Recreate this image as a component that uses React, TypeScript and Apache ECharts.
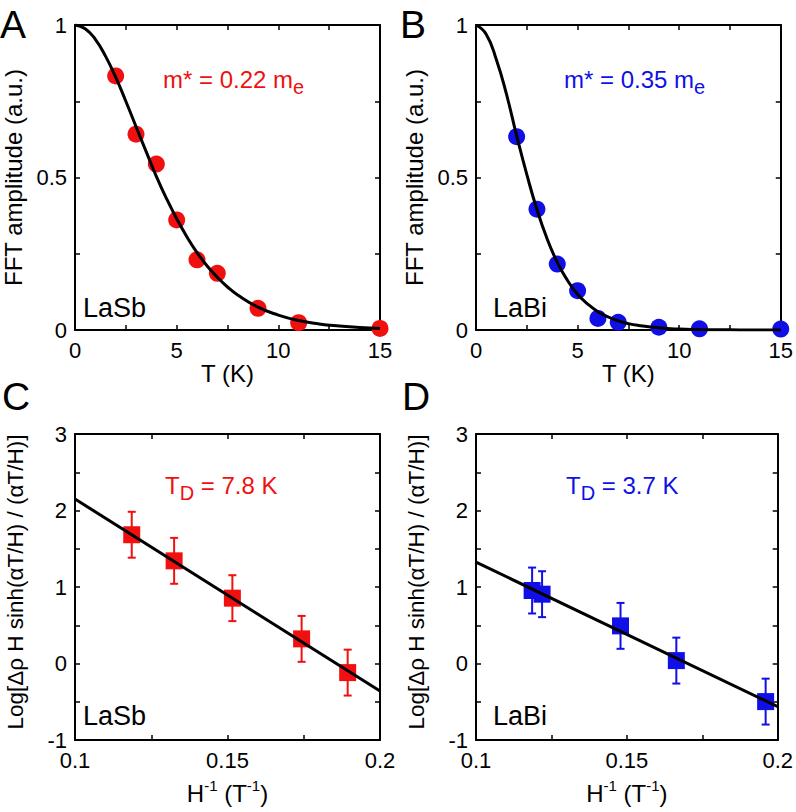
import React, { useEffect, useRef } from 'react';
import * as echarts from 'echarts';

// ---- Panel A / B : FFT amplitude vs T ----
const tempA = [2, 3, 4, 5, 6, 7, 9, 11, 15];
const ampLaSb = [0.833, 0.642, 0.544, 0.361, 0.23, 0.186, 0.071, 0.024, 0.005];
const tempB = [2, 3, 4, 5, 6, 7, 9, 11, 15];
const ampLaBi = [0.634, 0.396, 0.216, 0.129, 0.038, 0.025, 0.009, 0.004, 0.003];
const fitT = [0, 0.5, 1, 1.5, 2, 2.5, 3, 3.5, 4, 4.5, 5, 5.5, 6, 6.5, 7, 7.5, 8, 9, 10, 11, 12, 13, 14, 15];
const fitLaSb = [1, 0.988, 0.953, 0.898, 0.829, 0.75, 0.667, 0.585, 0.504, 0.431, 0.365, 0.306, 0.254, 0.21, 0.173, 0.141, 0.115, 0.075, 0.049, 0.031, 0.02, 0.013, 0.008, 0.005];
const fitLaBi = [1, 0.97, 0.887, 0.773, 0.637, 0.51, 0.395, 0.299, 0.222, 0.163, 0.117, 0.085, 0.06, 0.043, 0.03, 0.021, 0.015, 0.007, 0.003, 0.0015, 0.0007, 0.0003, 0.0001, 0.00005];

// ---- Panel C / D : Dingle plots ----
const invH_C = [0.1186, 0.1325, 0.1516, 0.1743, 0.1894];
const logC = [1.683, 1.342, 0.854, 0.322, -0.119];
const errC = [0.3, 0.3, 0.3, 0.3, 0.3];
const fitX_C = [0.1, 0.2];
const fitY_C = [2.15, -0.36];
const invH_D = [0.1186, 0.1219, 0.1479, 0.1664, 0.196];
const logD = [0.954, 0.906, 0.492, 0.038, -0.498];
const errD = [0.3, 0.3, 0.3, 0.3, 0.3];
const fitX_D = [0.1, 0.2];
const fitY_D = [1.325, -0.564];

const RED = '#f01010';
const BLUE = '#1010e6';
const FONT = '"Liberation Sans", Arial, Helvetica, sans-serif';

const zip = (a: number[], b: number[]) => a.map((v, i) => [v, b[i]]);

function fmtStep(step: number) {
  return (v: number) => {
    const r = v / step;
    if (Math.abs(r - Math.round(r)) > 1e-6) return '';
    return String(+v.toFixed(3));
  };
}

function xAxes(grid: number, min: number, max: number, interval: number, labelStep: number, name: any, gap: number, rich?: any) {
  const base = {
    type: 'value', gridIndex: grid, min, max, interval,
    axisLine: { show: true, onZero: false, lineStyle: { color: '#000', width: 2 } },
    axisTick: { show: true, inside: true, length: 5, lineStyle: { color: '#000', width: 1.5 } },
    splitLine: { show: false },
  };
  return [
    {
      ...base, position: 'bottom',
      axisLabel: { show: true, color: '#000', fontSize: 22, fontFamily: FONT, margin: 9, formatter: fmtStep(labelStep) },
      name, nameLocation: 'middle', nameGap: gap,
      nameTextStyle: { color: '#000', fontSize: 24, fontFamily: FONT, verticalAlign: 'top', rich },
    },
    { ...base, position: 'top', axisLabel: { show: false } },
  ];
}

function yAxes(grid: number, min: number, max: number, interval: number, labelStep: number, name: string, gap: number, size: number, pad: number[]) {
  const base = {
    type: 'value', gridIndex: grid, min, max, interval,
    axisLine: { show: true, onZero: false, lineStyle: { color: '#000', width: 2 } },
    axisTick: { show: true, inside: true, length: 5, lineStyle: { color: '#000', width: 1.5 } },
    splitLine: { show: false },
  };
  return [
    {
      ...base, position: 'left',
      axisLabel: { show: true, color: '#000', fontSize: 22, fontFamily: FONT, margin: 8, formatter: fmtStep(labelStep) },
      name, nameLocation: 'middle', nameGap: gap,
      nameTextStyle: { color: '#000', fontSize: size, fontFamily: FONT, padding: pad },
    },
    { ...base, position: 'right', axisLabel: { show: false } },
  ];
}

function errorBars(xi: number, x: number[], y: number[], e: number[], color: string) {
  return {
    type: 'custom', xAxisIndex: xi, yAxisIndex: xi,
    data: x.map((v, i) => [v, y[i] - e[i], y[i] + e[i]]),
    encode: { x: 0, y: [1, 2] },
    renderItem: (_p: any, api: any) => {
      const lo = api.coord([api.value(0), api.value(1)]);
      const hi = api.coord([api.value(0), api.value(2)]);
      const cap = 4;
      const st = { stroke: color, lineWidth: 2 };
      return {
        type: 'group',
        children: [
          { type: 'line', shape: { x1: lo[0], y1: lo[1], x2: hi[0], y2: hi[1] }, style: st },
          { type: 'line', shape: { x1: lo[0] - cap, y1: lo[1], x2: lo[0] + cap, y2: lo[1] }, style: st },
          { type: 'line', shape: { x1: hi[0] - cap, y1: hi[1], x2: hi[0] + cap, y2: hi[1] }, style: st },
        ],
      };
    },
  };
}

const supRich = {
  a: { fontSize: 24, fontFamily: FONT, color: '#000', lineHeight: 30 },
  s: { fontSize: 15, fontFamily: FONT, color: '#000', lineHeight: 14, verticalAlign: 'top' },
};

function subText(x: number, y: number, parts: [string, string, string], color: string) {
  return {
    type: 'text', x, y,
    style: {
      text: `{a|${parts[0]}}{b|${parts[1]}}{a|${parts[2]}}`,
      textVerticalAlign: 'top',
      rich: {
        a: { fontSize: 24, fontFamily: FONT, fill: color, color, lineHeight: 30, verticalAlign: 'top' },
        b: { fontSize: 20, fontFamily: FONT, fill: color, color, lineHeight: 10, verticalAlign: 'bottom' },
      },
    },
  };
}

function plainText(x: number, y: number, text: string, size: number) {
  return {
    type: 'text', x, y,
    style: { text, fill: '#000', fontSize: size, fontFamily: FONT, textVerticalAlign: 'middle' },
  };
}

export default function App() {
  const ref = useRef<HTMLDivElement>(null);
  useEffect(() => {
    document.body.style.margin = '0';
    const chart = echarts.init(ref.current!, null, { renderer: 'svg' });
    const hName = '{a|H}{s|-1}{a| (T}{s|-1}{a|)}';
    const dingle = 'Log[Δρ H sinh(αT/H) / (αT/H)]';
    const option: any = {
      animation: false,
      backgroundColor: '#fff',
      grid: [
        { left: 75, top: 25, width: 305, height: 305 },
        { left: 476, top: 25, width: 306, height: 305 },
        { left: 75, top: 434, width: 305, height: 306 },
        { left: 476, top: 434, width: 305, height: 306 },
      ],
      xAxis: [
        ...xAxes(0, 0, 15, 2.5, 5, 'T (K)', 27),
        ...xAxes(1, 0, 15, 2.5, 5, 'T (K)', 27),
        ...xAxes(2, 0.1, 0.2, 0.025, 0.05, hName, 38, supRich),
        ...xAxes(3, 0.1, 0.2, 0.025, 0.05, hName, 38, supRich),
      ],
      yAxis: [
        ...yAxes(0, 0, 1, 0.25, 0.5, 'FFT amplitude (a.u.)', 50, 24, [0, 0, 0, 0]),
        ...yAxes(1, 0, 1, 0.25, 0.5, 'FFT amplitude (a.u.)', 50, 24, [0, 0, 0, 0]),
        ...yAxes(2, -1, 3, 0.5, 1, dingle, 48, 22.5, [0, 0, 0, 10]),
        ...yAxes(3, -1, 3, 0.5, 1, dingle, 48, 22.5, [0, 0, 0, 10]),
      ],
      series: [
        { type: 'scatter', xAxisIndex: 0, yAxisIndex: 0, data: zip(tempA, ampLaSb), symbol: 'circle', symbolSize: 17, itemStyle: { color: RED, opacity: 1 } },
        { type: 'line', xAxisIndex: 0, yAxisIndex: 0, data: zip(fitT, fitLaSb), smooth: true, showSymbol: false, lineStyle: { color: '#000', width: 3 } },
        { type: 'scatter', xAxisIndex: 2, yAxisIndex: 2, data: zip(tempB, ampLaBi), symbol: 'circle', symbolSize: 17, itemStyle: { color: BLUE, opacity: 1 } },
        { type: 'line', xAxisIndex: 2, yAxisIndex: 2, data: zip(fitT, fitLaBi), smooth: true, showSymbol: false, lineStyle: { color: '#000', width: 3 } },
        errorBars(4, invH_C, logC, errC, RED),
        { type: 'scatter', xAxisIndex: 4, yAxisIndex: 4, data: zip(invH_C, logC), symbol: 'rect', symbolSize: 17, itemStyle: { color: RED, opacity: 1 } },
        { type: 'line', xAxisIndex: 4, yAxisIndex: 4, data: zip(fitX_C, fitY_C), showSymbol: false, lineStyle: { color: '#000', width: 3 } },
        errorBars(6, invH_D, logD, errD, BLUE),
        { type: 'scatter', xAxisIndex: 6, yAxisIndex: 6, data: zip(invH_D, logD), symbol: 'rect', symbolSize: 17, itemStyle: { color: BLUE, opacity: 1 } },
        { type: 'line', xAxisIndex: 6, yAxisIndex: 6, data: zip(fitX_D, fitY_D), showSymbol: false, lineStyle: { color: '#000', width: 3 } },
      ],
      graphic: [
        plainText(0, 24, 'A', 39),
        plainText(400, 24, 'B', 39),
        plainText(2, 396, 'C', 39),
        plainText(402, 396, 'D', 39),
        subText(163, 67, ['m* = 0.22 m', 'e', ''], RED),
        subText(564, 67, ['m* = 0.35 m', 'e', ''], BLUE),
        subText(165, 473, ['T', 'D', ' = 7.8 K'], RED),
        subText(566, 473, ['T', 'D', ' = 3.7 K'], BLUE),
        plainText(83, 308, 'LaSb', 27),
        plainText(493, 308, 'LaBi', 27),
        plainText(83, 716, 'LaSb', 27),
        plainText(493, 716, 'LaBi', 27),
      ],
    };
    chart.setOption(option);
    return () => chart.dispose();
  }, []);
  return <div ref={ref} style={{ position: 'absolute', left: 0, top: 0, width: 796, height: 812 }} />;
}
